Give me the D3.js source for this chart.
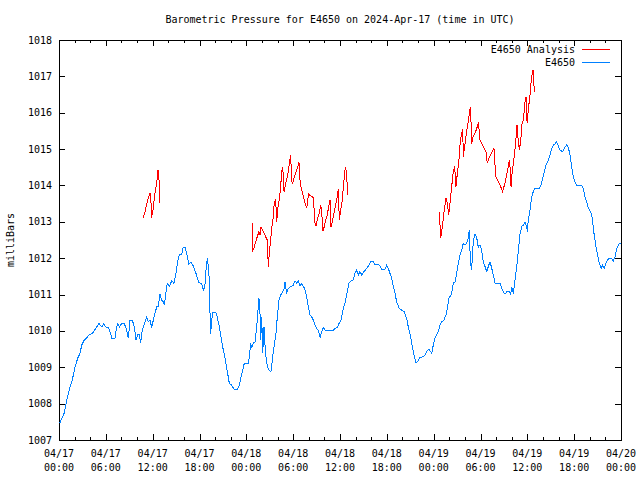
<!DOCTYPE html>
<html><head><meta charset="utf-8">
<script src="https://cdn.jsdelivr.net/npm/d3@7"></script>
<style>
body{margin:0;background:#fff;}
svg{display:block;}
text{font-family:"DejaVu Sans Mono",monospace;font-size:10px;fill:#000;}
</style></head>
<body>
<svg id="chart" width="640" height="480"></svg>
<script>
// ---- data (hours since 2024-04-17 00:00 UTC, millibars) ----
const title = "Barometric Pressure for E4650 on 2024-Apr-17 (time in UTC)";
const yLabel = "milliBars";
const seriesNames = ["E4650 Analysis", "E4650"];
const yTicks = [1007,1008,1009,1010,1011,1012,1013,1014,1015,1016,1017,1018];
const xTickHours = [0,6,12,18,24,30,36,42,48,54,60,66,72];

const station = [
[0.1,1007.47],[0.68,1007.75],[0.99,1008.1],[1.41,1008.46],[1.7,1008.65],[2.05,1009.0],[2.4,1009.25],[2.69,1009.38],
[2.91,1009.61],[3.24,1009.75],[3.55,1009.81],[3.88,1009.9],[4.27,1009.93],[4.61,1010.04],[5.12,1010.2],[5.47,1010.11],
[5.73,1010.2],[6.02,1010.1],[6.32,1010.09],[6.62,1009.93],[6.75,1009.8],[7.17,1009.8],[7.39,1010.11],[7.52,1010.2],
[7.73,1010.11],[8.03,1010.2],[8.37,1010.2],[8.67,1010.02],[8.88,1009.8],[9.1,1010.3],[9.39,1010.3],[9.65,1010.11],
[9.86,1009.75],[10.08,1009.89],[10.29,1009.89],[10.47,1009.68],[10.67,1010.02],[10.93,1010.2],[11.24,1010.39],[11.44,1010.25],
[11.66,1010.3],[11.88,1010.09],[12.17,1010.39],[12.43,1010.59],[12.52,1010.68],[12.72,1010.68],[12.94,1011.0],[13.16,1010.85],
[13.36,1010.8],[13.49,1010.71],[13.87,1011.31],[14.13,1011.22],[14.44,1011.38],[14.73,1011.31],[14.99,1011.58],[15.16,1011.86],
[15.41,1012.09],[15.72,1012.11],[15.92,1012.3],[16.18,1012.3],[16.44,1012.04],[16.62,1011.83],[16.91,1011.9],[17.21,1011.78],
[17.55,1011.58],[17.9,1011.33],[18.15,1011.31],[18.36,1011.26],[18.49,1011.1],[18.7,1011.26],[18.83,1011.67],[19.0,1012.0],
[19.13,1011.77],[19.26,1011.4],[19.34,1010.56],[19.43,1009.91],[19.56,1010.3],[19.69,1010.5],[20.11,1010.5],[20.28,1010.37],
[20.54,1010.11],[20.75,1009.84],[20.97,1009.56],[21.18,1009.34],[21.39,1009.11],[21.61,1008.83],[21.82,1008.56],[22.12,1008.51],
[22.42,1008.4],[22.89,1008.4],[23.1,1008.51],[23.32,1008.74],[23.53,1008.92],[23.74,1009.11],[24.25,1009.11],[24.38,1009.29],
[24.56,1009.66],[24.69,1009.52],[24.89,1009.66],[25.11,1009.7],[25.33,1010.11],[25.46,1010.48],[25.62,1010.9],[25.75,1010.48],
[25.84,1009.75],[25.97,1010.39],[26.1,1009.38],[26.26,1010.11],[26.43,1009.47],[26.61,1009.11],[26.81,1008.95],[27.16,1008.88],
[27.33,1009.2],[27.54,1009.56],[27.8,1009.93],[27.97,1010.39],[28.18,1010.85],[28.4,1010.99],[28.61,1011.05],[28.82,1011.14],
[28.95,1011.35],[29.17,1011.03],[29.38,1011.17],[29.72,1011.22],[30.02,1011.26],[30.23,1011.38],[30.45,1011.31],[30.66,1011.38],
[30.87,1011.23],[31.09,1011.31],[31.3,1011.23],[31.51,1011.14],[31.73,1010.94],[31.94,1010.67],[32.16,1010.44],[32.37,1010.39],
[32.58,1010.3],[32.8,1010.16],[33.01,1010.07],[33.22,1010.02],[33.44,1009.82],[33.65,1009.98],[33.86,1010.1],[34.08,1010.02],
[34.5,1010.01],[35.14,1010.01],[35.36,1010.07],[35.7,1010.1],[35.87,1010.2],[36.13,1010.3],[36.29,1010.48],[36.51,1010.67],
[36.73,1010.85],[36.93,1011.08],[37.15,1011.31],[37.41,1011.38],[37.7,1011.4],[37.92,1011.58],[38.14,1011.67],[38.34,1011.54],
[38.56,1011.63],[38.78,1011.54],[39.07,1011.63],[39.42,1011.72],[39.63,1011.78],[39.93,1011.9],[40.27,1011.9],[40.48,1011.83],
[41.03,1011.81],[41.34,1011.7],[41.76,1011.7],[41.98,1011.81],[42.19,1011.72],[42.4,1011.58],[42.62,1011.45],[42.83,1011.22],
[43.05,1011.03],[43.26,1010.8],[43.6,1010.62],[43.9,1010.57],[44.24,1010.53],[44.54,1010.34],[44.75,1010.11],[45.06,1009.84],
[45.26,1009.56],[45.48,1009.34],[45.74,1009.13],[46.03,1009.18],[46.25,1009.27],[46.67,1009.29],[46.89,1009.34],[47.18,1009.47],
[47.44,1009.49],[47.75,1009.38],[47.95,1009.61],[48.17,1009.8],[48.39,1009.89],[48.59,1009.98],[48.81,1010.16],[49.03,1010.25],
[49.32,1010.3],[49.58,1010.44],[49.75,1010.62],[49.96,1010.9],[50.31,1011.03],[50.51,1011.31],[50.73,1011.35],[50.95,1011.58],
[51.15,1011.86],[51.37,1012.09],[51.59,1012.22],[51.8,1012.41],[52.01,1012.36],[52.23,1012.41],[52.43,1012.55],[52.56,1012.78],
[52.65,1012.22],[52.74,1011.86],[52.87,1011.69],[53.0,1012.22],[53.1,1012.5],[53.29,1012.66],[53.51,1012.57],[53.72,1012.3],
[53.93,1012.36],[54.15,1012.22],[54.36,1011.9],[54.58,1011.77],[54.8,1011.63],[55.0,1011.77],[55.22,1011.9],[55.44,1011.72],
[55.64,1011.54],[55.86,1011.31],[56.5,1011.31],[56.72,1011.17],[56.92,1011.08],[57.14,1011.01],[57.36,1011.08],[57.69,1011.08],
[57.87,1011.01],[58.0,1011.2],[58.21,1011.03],[58.42,1011.4],[58.64,1011.77],[58.84,1012.18],[59.06,1012.66],[59.28,1012.87],
[59.48,1012.91],[59.7,1013.0],[59.92,1012.87],[59.99,1012.73],[60.12,1013.05],[60.34,1013.32],[60.56,1013.69],[60.76,1013.83],
[60.98,1013.92],[61.53,1013.92],[61.75,1014.01],[61.97,1014.2],[62.17,1014.38],[62.39,1014.56],[62.69,1014.7],[62.9,1014.84],
[63.12,1015.02],[63.33,1015.11],[63.54,1015.14],[63.76,1015.2],[63.97,1015.08],[64.18,1014.97],[64.53,1014.93],[64.73,1015.02],
[65.04,1015.11],[65.25,1015.05],[65.46,1014.84],[65.68,1014.52],[65.89,1014.24],[66.1,1014.1],[66.32,1014.01],[66.96,1014.01],
[67.17,1013.92],[67.39,1013.69],[67.6,1013.55],[67.81,1013.37],[68.12,1013.28],[68.32,1013.1],[68.54,1012.68],[68.76,1012.36],
[68.96,1012.13],[69.18,1011.9],[69.44,1011.72],[69.65,1011.81],[69.86,1011.72],[70.08,1011.86],[70.29,1011.95],[70.5,1012.0],
[70.8,1012.0],[71.01,1011.92],[71.23,1012.04],[71.45,1012.27],[71.66,1012.36],[71.79,1012.41],[71.95,1012.41]
];

const analysisA = [
[10.8,1013.12],[11.02,1013.28],[11.24,1013.48],[11.44,1013.66],[11.66,1013.8],[11.79,1013.51],[11.83,1013.1],[11.96,1013.23],
[12.08,1013.37],[12.26,1013.74],[12.43,1013.97],[12.56,1014.15],[12.68,1014.42],[12.77,1014.33],[12.85,1013.98],[12.86,1013.53]
];
const analysisB = [
[24.69,1012.96],[24.81,1012.96],[24.83,1012.22],[24.98,1012.27],[25.2,1012.45],[25.4,1012.59],[25.62,1012.73],[25.75,1012.64],
[25.88,1012.85],[26.1,1012.77],[26.3,1012.68],[26.52,1012.57],[26.69,1012.5],[26.81,1011.77],[26.94,1012.13],[27.12,1012.5],
[27.25,1012.82],[27.45,1013.14],[27.58,1013.55],[27.76,1013.6],[27.89,1013.0],[28.02,1013.37],[28.22,1013.6],[28.4,1013.97],
[28.53,1014.38],[28.66,1014.5],[28.74,1014.24],[28.83,1013.83],[28.96,1013.97],[29.17,1014.17],[29.38,1014.38],[29.51,1014.61],
[29.68,1014.84],[29.81,1014.1],[29.94,1014.06],[30.11,1014.2],[30.32,1014.33],[30.53,1014.47],[30.75,1014.63],[30.87,1014.15],
[31.04,1013.92],[31.22,1013.78],[31.43,1013.6],[31.64,1013.43],[31.73,1013.37],[31.86,1013.6],[31.99,1013.76],[32.25,1013.71],
[32.58,1013.67],[32.8,1012.96],[32.92,1012.88],[33.09,1013.07],[33.31,1013.21],[33.53,1013.46],[33.65,1013.28],[33.82,1012.76],
[33.99,1012.87],[34.17,1013.05],[34.37,1013.19],[34.55,1013.42],[34.72,1013.6],[34.85,1012.85],[35.06,1013.05],[35.27,1013.28],
[35.49,1013.51],[35.65,1013.69],[35.78,1013.89],[35.91,1013.05],[36.09,1013.32],[36.29,1013.6],[36.51,1014.15],[36.68,1014.5],
[36.86,1014.33],[36.93,1013.92],[36.94,1013.74]
];
const analysisC = [
[48.72,1013.28],[48.81,1012.91],[48.9,1012.55],[49.03,1012.73],[49.16,1012.96],[49.36,1013.32],[49.58,1013.65],[49.75,1013.51],
[49.93,1013.19],[50.09,1013.51],[50.31,1013.97],[50.51,1014.38],[50.69,1014.52],[50.86,1013.97],[51.03,1014.33],[51.21,1014.61],
[51.37,1015.11],[51.54,1015.39],[51.72,1015.54],[51.8,1014.79],[51.97,1015.07],[52.14,1015.34],[52.31,1015.62],[52.49,1015.8],
[52.56,1015.98],[52.69,1016.15],[52.78,1015.8],[52.87,1015.14],[53.0,1015.3],[53.17,1015.39],[53.38,1015.48],[53.59,1015.62],
[53.72,1015.73],[53.85,1015.48],[53.93,1015.25],[54.15,1015.16],[54.36,1015.07],[54.58,1014.97],[54.7,1014.93],[54.87,1014.61],
[55.05,1014.75],[55.31,1014.84],[55.56,1014.95],[55.73,1015.02],[55.86,1014.56],[55.98,1014.24],[56.2,1014.15],[56.41,1014.06],
[56.63,1013.94],[56.84,1013.83],[57.01,1013.97],[57.18,1014.1],[57.36,1014.29],[57.56,1014.52],[57.69,1014.7],[57.78,1014.52],
[57.91,1013.97],[58.04,1014.33],[58.21,1014.61],[58.39,1014.93],[58.55,1015.3],[58.68,1015.66],[58.81,1015.3],[58.98,1014.97],
[59.16,1015.25],[59.33,1015.71],[59.5,1015.8],[59.68,1016.26],[59.84,1016.44],[59.97,1015.71],[60.14,1016.12],[60.32,1016.44],
[60.43,1016.72],[60.56,1016.99],[60.69,1017.17],[60.82,1017.17],[60.83,1016.85],[60.9,1016.58]
];

// ---- layout ----
const L = 59, R = 621, T = 40, B = 440;
const start = Date.UTC(2024, 3, 17, 0, 0);
const toDate = h => new Date(start + h * 3600000);
const svg = d3.select("#chart");

const x = d3.scaleUtc().domain([toDate(0), toDate(72)]).range([L, R]);
const y = d3.scaleLinear().domain([1007, 1018]).range([B, T]);

const colRed = "#ff0000", colBlue = "#0080ff";

// frame
svg.append("rect").attr("x", L).attr("y", T).attr("width", R - L).attr("height", B - T)
  .attr("fill", "none").attr("stroke", "#000").attr("shape-rendering", "crispEdges");

// x ticks every 2 h, major every 6 h
const allX = d3.range(0, 73, 2);
const tg = svg.append("g").attr("shape-rendering", "crispEdges").attr("stroke", "#000");
allX.forEach(h => {
  const len = h % 6 === 0 ? 6 : 3;
  const px = Math.round(x(toDate(h))) + 0.5;
  tg.append("line").attr("x1", px).attr("x2", px).attr("y1", B).attr("y2", B - len);
  tg.append("line").attr("x1", px).attr("x2", px).attr("y1", T).attr("y2", T + len);
});
yTicks.forEach(v => {
  const py = Math.round(y(v)) + 0.5;
  tg.append("line").attr("x1", L).attr("x2", L + 6).attr("y1", py).attr("y2", py);
  tg.append("line").attr("x1", R).attr("x2", R - 6).attr("y1", py).attr("y2", py);
});

// y tick labels
svg.append("g").selectAll("text").data(yTicks).join("text")
  .attr("x", L - 7).attr("y", d => y(d)).attr("text-anchor", "end")
  .attr("dominant-baseline", "central").text(d => d);

// x tick labels
const fmtD = d3.utcFormat("%m/%d"), fmtT = d3.utcFormat("%H:%M");
const xl = svg.append("g").selectAll("g").data(xTickHours).join("g");
xl.append("text").attr("x", d => x(toDate(d))).attr("y", 453).attr("text-anchor", "middle")
  .attr("dominant-baseline", "central").text(d => fmtD(toDate(d)));
xl.append("text").attr("x", d => x(toDate(d))).attr("y", 467).attr("text-anchor", "middle")
  .attr("dominant-baseline", "central").text(d => fmtT(toDate(d)));

// title & y label
svg.append("text").attr("x", (L + R) / 2).attr("y", 19).attr("text-anchor", "middle")
  .attr("dominant-baseline", "central").text(title);
svg.append("text").attr("transform", "translate(10,240) rotate(-90)").attr("text-anchor", "middle")
  .attr("dominant-baseline", "central").text(yLabel);

// lines
const line = d3.line().x(d => x(toDate(d[0]))).y(d => y(d[1]));
const lg = svg.append("g").attr("fill", "none").attr("stroke-width", 1).attr("shape-rendering", "crispEdges");
lg.append("path").attr("d", line(station)).attr("stroke", colBlue);
[analysisA, analysisB, analysisC].forEach(s =>
  lg.append("path").attr("d", line(s)).attr("stroke", colRed));

// legend
const leg = [{name: seriesNames[0], c: colRed, yy: 49}, {name: seriesNames[1], c: colBlue, yy: 62}];
leg.forEach(o => {
  svg.append("text").attr("x", 575).attr("y", o.yy).attr("text-anchor", "end")
    .attr("dominant-baseline", "central").text(o.name);
  svg.append("line").attr("x1", 582).attr("x2", 610).attr("y1", o.yy + 0.5).attr("y2", o.yy + 0.5)
    .attr("stroke", o.c).attr("shape-rendering", "crispEdges");
});
</script>
</body></html>
